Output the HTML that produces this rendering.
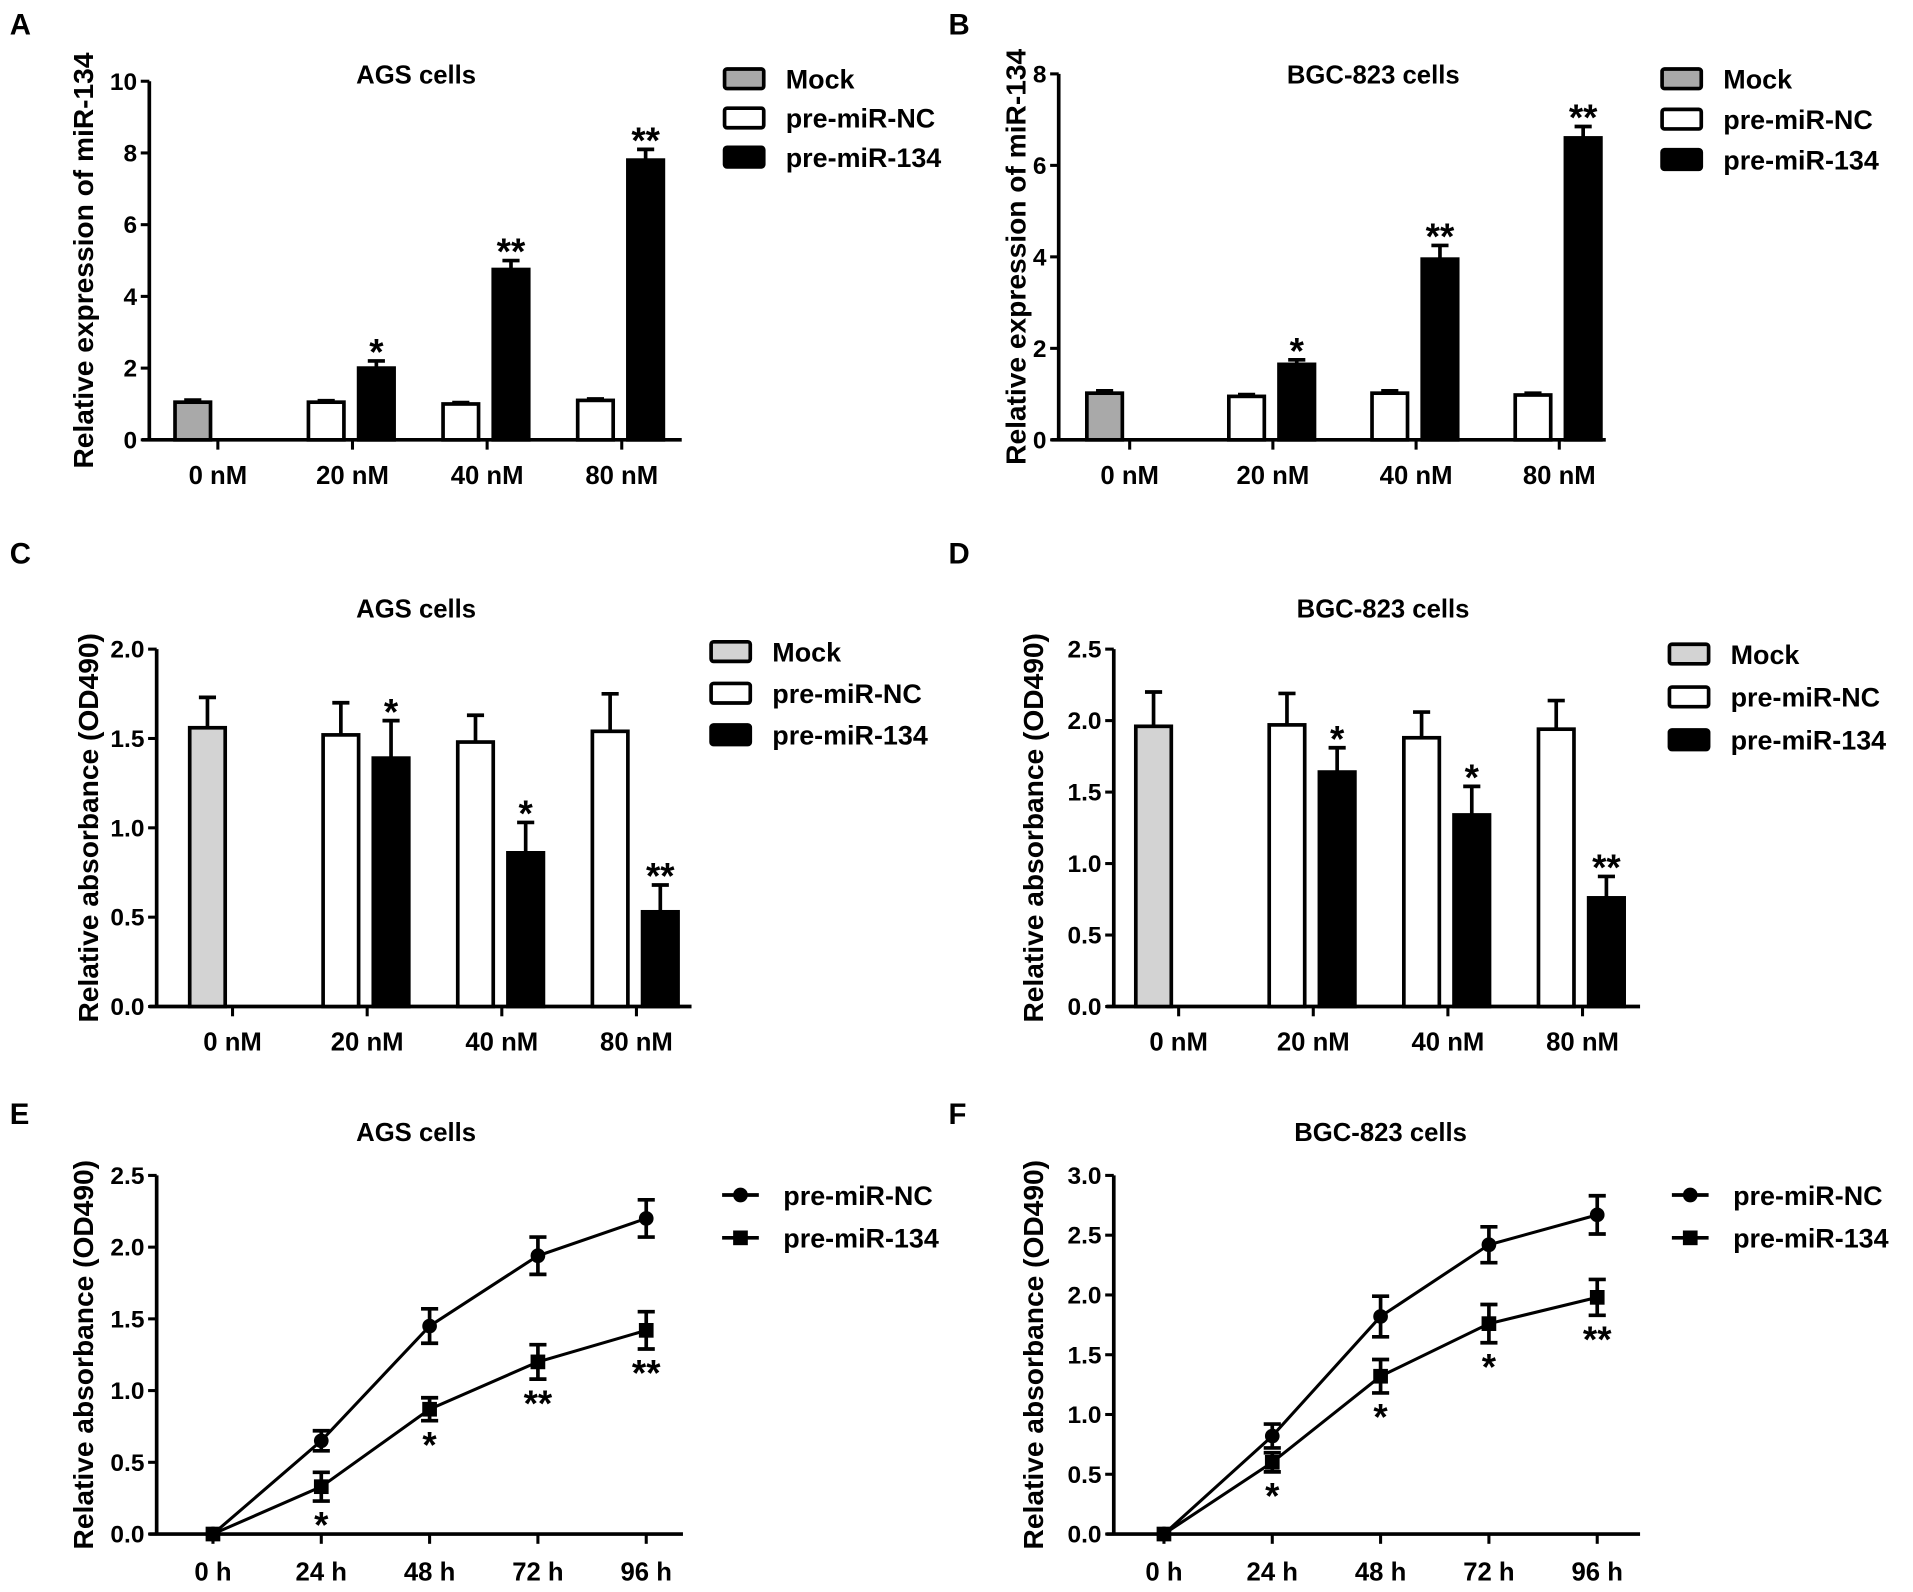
<!DOCTYPE html>
<html><head><meta charset="utf-8"><style>
html,body{margin:0;padding:0;background:#fff}
svg{display:block}
text{font-family:"Liberation Sans Narrow","Liberation Sans",sans-serif;font-weight:bold;fill:#000}
</style></head><body>
<svg id="fig" width="1913" height="1592" viewBox="0 0 1563 1300" xmlns="http://www.w3.org/2000/svg"></svg>
<script>
// ---- data ----
const barCats = ["0 nM","20 nM","40 nM","80 nM"];
const seriesNames = ["Mock","pre-miR-NC","pre-miR-134"];
const aMock = [1.05]; const aMockErr=[0.06];
const aNC = [1.05,1.0,1.1]; const aNCErr=[0.04,0.04,0.04];
const a134 = [2.0,4.75,7.8]; const a134Err=[0.2,0.25,0.3]; const a134Sig=["*","**","**"];
const aTicks = [0,2,4,6,8,10];
const bMock = [1.02]; const bMockErr=[0.05];
const bNC = [0.95,1.02,0.98]; const bNCErr=[0.04,0.05,0.04];
const b134 = [1.65,3.95,6.6]; const b134Err=[0.1,0.3,0.25]; const b134Sig=["*","**","**"];
const bTicks = [0,2,4,6,8];
const cMock = [1.56]; const cMockErr=[0.17];
const cNC = [1.52,1.48,1.54]; const cNCErr=[0.18,0.15,0.21];
const c134 = [1.39,0.86,0.53]; const c134Err=[0.21,0.17,0.15]; const c134Sig=["*","*","**"];
const cTicks = [0,0.5,1.0,1.5,2.0];
const dMock = [1.96]; const dMockErr=[0.24];
const dNC = [1.97,1.88,1.94]; const dNCErr=[0.22,0.18,0.2];
const d134 = [1.64,1.34,0.76]; const d134Err=[0.17,0.2,0.15]; const d134Sig=["*","*","**"];
const dTicks = [0,0.5,1.0,1.5,2.0,2.5];
const timeCats = ["0 h","24 h","48 h","72 h","96 h"];
const eNC = [0,0.65,1.45,1.94,2.2]; const eNCErr=[0,0.07,0.12,0.13,0.13];
const e134 = [0,0.33,0.87,1.2,1.42]; const e134Err=[0,0.1,0.08,0.12,0.13]; const e134Sig=["","*","*","**","**"];
const eTicks = [0,0.5,1.0,1.5,2.0,2.5];
const fNC = [0,0.82,1.82,2.42,2.67]; const fNCErr=[0,0.1,0.17,0.15,0.16];
const f134 = [0,0.6,1.32,1.76,1.98]; const f134Err=[0,0.08,0.14,0.16,0.15]; const f134Sig=["","*","*","*","**"];
const fTicks = [0,0.5,1.0,1.5,2.0,2.5,3.0];

const svg=document.getElementById('fig');
const NS="http://www.w3.org/2000/svg";
function mk(tag,attrs,parent,txt){const e=document.createElementNS(NS,tag);for(const k in attrs)e.setAttribute(k,attrs[k]);if(txt!==undefined)e.textContent=txt;(parent||svg).appendChild(e);return e;}
function fmt(v,dec){return dec?v.toFixed(1):String(v);}

function axes(g,P){
  const y=v=>P.y0-(v-P.ticks[0])/(P.ticks[P.ticks.length-1]-P.ticks[0])*(P.y0-P.y1);
  const ya=mk('line',{x1:P.ax,y1:P.y1,x2:P.ax,y2:P.y0,stroke:'#000','stroke-width':3},g);
  
  const xa=mk('line',{x1:P.ax-6,y1:P.y0,x2:P.xend,y2:P.y0,stroke:'#000','stroke-width':3},g);
  
  P.ticks.forEach(t=>{
    mk('line',{x1:P.ax-7,y1:y(t),x2:P.ax,y2:y(t),stroke:'#000','stroke-width':2.5},g);
    const tl=mk('text',{x:P.ax-10,y:y(t)+7,'text-anchor':'end','font-size':20},g,fmt(t,P.dec));
    
  });
  const yt=mk('text',{x:0,y:0,'text-anchor':'middle','font-size':23,transform:`translate(${P.ylx},${(P.y0+P.y1)/2}) rotate(-90)`},g,P.ylabel);
  
  const ti=mk('text',{x:P.tx,y:P.ty,'text-anchor':'middle','font-size':21},g,P.title);
  
  const pl=mk('text',{x:P.lx,y:P.ly,'font-size':24},g,P.letter);
  
  return y;
}
function errbar(g,x,yv,yt,up,down){
  mk('line',{x1:x,y1:up,x2:x,y2:down,stroke:'#000','stroke-width':3},g);
  mk('line',{x1:x-7,y1:up,x2:x+7,y2:up,stroke:'#000','stroke-width':3},g);
  if(down!==yv) mk('line',{x1:x-7,y1:down,x2:x+7,y2:down,stroke:'#000','stroke-width':3},g);
}
function barPanel(P,mock,mockErr,nc,ncErr,s134,s134Err,sig){
  const g=mk('g',{});
  const y=axes(g,P);
  const cx=i=>P.c0+i*P.step;
  barCats.forEach((c,i)=>{
    mk('line',{x1:cx(i),y1:P.y0,x2:cx(i),y2:P.y0+8,stroke:'#000','stroke-width':2.5},g);
    const t=mk('text',{x:cx(i),y:P.y0+36,'text-anchor':'middle','font-size':21},g,c);
    
  });
  const bw=29;
  function bar(x,v,e,fill,name){
    const yv=y(v);
    errbar(g,x+bw/2,yv,y,y(v+e),yv);
    const r=mk('rect',{x:x,y:yv,width:bw,height:P.y0-yv,fill:fill,stroke:'#000','stroke-width':3},g);
    
  }
  bar(cx(0)-35,mock[0],mockErr[0],P.mockFill,'bar-mock-0nm');
  nc.forEach((v,i)=>bar(cx(i+1)-36,v,ncErr[i],'#fff','bar-nc-'+barCats[i+1].replace(' ','').toLowerCase()));
  s134.forEach((v,i)=>{
    bar(cx(i+1)+5,v,s134Err[i],'#000','bar-134-'+barCats[i+1].replace(' ','').toLowerCase());
    const s=mk('text',{x:cx(i+1)+5+bw/2,y:y(v+s134Err[i])+3,'text-anchor':'middle','font-size':30},g,sig[i]);
    
  });
  const fills=[P.mockFill,'#fff','#000'];
  seriesNames.forEach((n,i)=>{
    const ly=P.legY+i*P.legStep;
    const r=mk('rect',{x:P.legX,y:ly-8,width:32,height:16,fill:fills[i],stroke:'#000','stroke-width':3,rx:2},g);
    
    const t=mk('text',{x:P.legX+50,y:ly+8,'font-size':22},g,n);
    
  });
}
function linePanel(P,nc,ncErr,s134,s134Err,sig){
  const g=mk('g',{});
  const y=axes(g,P);
  const cx=i=>P.c0+i*P.step;
  timeCats.forEach((c,i)=>{
    mk('line',{x1:cx(i),y1:P.y0,x2:cx(i),y2:P.y0+8,stroke:'#000','stroke-width':2.5},g);
    const t=mk('text',{x:cx(i),y:P.y0+38,'text-anchor':'middle','font-size':21},g,c);
    
  });
  function series(vals,errs,marker,name){
    const pts=vals.map((v,i)=>cx(i)+','+y(v)).join(' ');
    const l=mk('polyline',{points:pts,fill:'none',stroke:'#000','stroke-width':2.5},g);
    
    vals.forEach((v,i)=>{
      if(errs[i]>0) errbar(g,cx(i),y(v),y,y(v+errs[i]),y(v-errs[i]));
      let m;
      if(marker==='circle') m=mk('circle',{cx:cx(i),cy:y(v),r:6,fill:'#000'},g);
      else m=mk('rect',{x:cx(i)-6,y:y(v)-6,width:12,height:12,fill:'#000'},g);
      
    });
  }
  series(nc,ncErr,'circle','nc');
  series(s134,s134Err,'square','134');
  sig.forEach((s,i)=>{if(!s)return;
    const t=mk('text',{x:cx(i),y:y(s134[i]-s134Err[i])+30,'text-anchor':'middle','font-size':30},g,s);
    
  });
  ['pre-miR-NC','pre-miR-134'].forEach((n,i)=>{
    const ly=P.legY+i*35;
    mk('line',{x1:P.legX,y1:ly,x2:P.legX+30,y2:ly,stroke:'#000','stroke-width':3},g);
    if(i===0) mk('circle',{cx:P.legX+15,cy:ly,r:6,fill:'#000'},g);
    else mk('rect',{x:P.legX+9,y:ly-6,width:12,height:12,fill:'#000'},g);
    const t=mk('text',{x:P.legX+50,y:ly+8,'font-size':22},g,n);
    
  });
}
barPanel({letter:'A',lx:8,ly:28,title:'AGS cells',tx:340,ty:68,ax:122,y0:359,y1:66,xend:557,ticks:aTicks,dec:false,ylabel:'Relative expression of miR-134',ylx:76,c0:178,step:110,mockFill:'#a9a9a9',legX:592,legY:64,legStep:32},aMock,aMockErr,aNC,aNCErr,a134,a134Err,a134Sig);
barPanel({letter:'B',lx:775,ly:28,title:'BGC-823 cells',tx:1122,ty:68,ax:865,y0:359,y1:60,xend:1312,ticks:bTicks,dec:false,ylabel:'Relative expression of miR-134',ylx:838,c0:923,step:117,mockFill:'#a9a9a9',legX:1358,legY:64,legStep:33},bMock,bMockErr,bNC,bNCErr,b134,b134Err,b134Sig);
barPanel({letter:'C',lx:8,ly:460,title:'AGS cells',tx:340,ty:504,ax:128,y0:822,y1:530,xend:565,ticks:cTicks,dec:true,ylabel:'Relative absorbance (OD490)',ylx:80,c0:190,step:110,mockFill:'#d3d3d3',legX:581,legY:532,legStep:34},cMock,cMockErr,cNC,cNCErr,c134,c134Err,c134Sig);
barPanel({letter:'D',lx:775,ly:460,title:'BGC-823 cells',tx:1130,ty:504,ax:910,y0:822,y1:530,xend:1340,ticks:dTicks,dec:true,ylabel:'Relative absorbance (OD490)',ylx:852,c0:963,step:110,mockFill:'#d3d3d3',legX:1364,legY:534,legStep:35},dMock,dMockErr,dNC,dNCErr,d134,d134Err,d134Sig);
linePanel({letter:'E',lx:8,ly:918,title:'AGS cells',tx:340,ty:932,ax:128,y0:1253,y1:960,xend:558,ticks:eTicks,dec:true,ylabel:'Relative absorbance  (OD490)',ylx:76,c0:174,step:88.5,legX:590,legY:976},eNC,eNCErr,e134,e134Err,e134Sig);
linePanel({letter:'F',lx:775,ly:918,title:'BGC-823 cells',tx:1128,ty:932,ax:910,y0:1253,y1:960,xend:1340,ticks:fTicks,dec:true,ylabel:'Relative absorbance  (OD490)',ylx:852,c0:951,step:88.5,legX:1366,legY:976},fNC,fNCErr,f134,f134Err,f134Sig);
</script>
</body></html>
